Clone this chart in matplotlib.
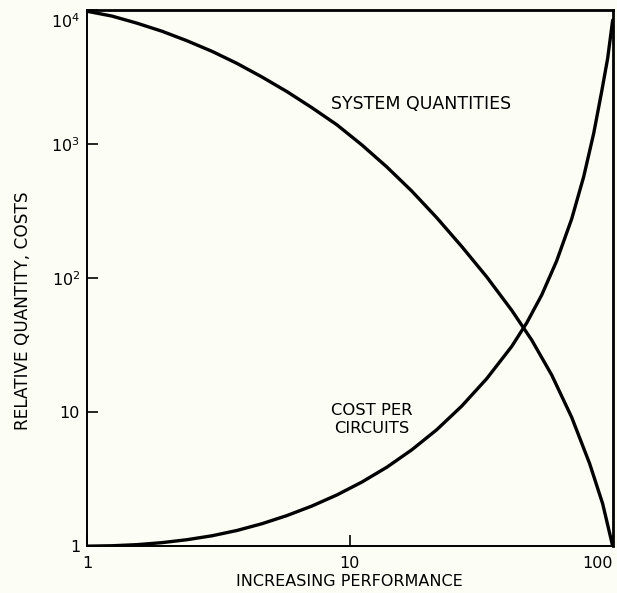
import matplotlib.pyplot as plt
import matplotlib.transforms as mtransforms
import numpy as np

# curve readings: relative performance vs relative quantity/cost
perf_sys = [1, 1.245, 1.549, 1.928, 2.40, 2.988, 3.719, 4.628, 5.761, 7.17, 8.925, 11.11,
            13.83, 17.21, 21.42, 26.66, 33.19, 41.3, 49.21, 58.64, 69.86, 81.76, 91.62, 100]
system_quantities = [9800, 9020, 7985, 6955, 5905, 4925, 4002, 3170, 2466, 1870, 1394, 986,
                     675, 446, 282, 172, 102, 57.5, 34.5, 18.9, 9.13, 4.12, 2.07, 1]

perf_cost = [1, 1.245, 1.549, 1.928, 2.40, 2.988, 3.719, 4.628, 5.761, 7.17, 8.925, 11.11,
             13.83, 17.21, 21.42, 26.66, 33.19, 41.3, 47.1, 53.7, 61.2, 69.86, 77.6, 84.7,
             90.8, 95.7, 100]
cost_per_circuit = [1, 1.007, 1.026, 1.062, 1.117, 1.195, 1.309, 1.47, 1.691, 1.992, 2.41, 3.007,
                    3.882, 5.236, 7.397, 11.1, 17.8, 30.94, 46.35, 74.8, 134.2, 277.3, 572.7, 1205,
                    2466, 4364, 8414]

y_ticks = [1, 10, 100, 1000, 10000]
y_tick_labels = ['1', '10', '10$^2$', '10$^3$', '10$^4$']
x_ticks = [1, 10, 100]
x_tick_labels = ['1', '10', '100']

bg = '#fcfdf5'
plt.rcParams['mathtext.default'] = 'regular'
plt.rcParams['font.family'] = 'DejaVu Sans'

fig = plt.figure(figsize=(6.17, 5.93), dpi=100, facecolor=bg)
ax = fig.add_axes([0.141, 0.079, 0.852, 0.904], facecolor=bg)

ax.plot(perf_sys, system_quantities, color='black', lw=2.4, solid_capstyle='round', solid_joinstyle='round')
ax.plot(perf_cost, cost_per_circuit, color='black', lw=2.4, solid_capstyle='round', solid_joinstyle='round')

ax.set_xscale('log')
ax.set_yscale('log')
ax.set_xlim(1, 100)
ax.set_ylim(1, 10000)
ax.minorticks_off()

ax.set_yticks(y_ticks)
ax.set_yticklabels(y_tick_labels)
ax.set_xticks(x_ticks)
ax.set_xticklabels(x_tick_labels)
ax.tick_params(direction='in', length=8, width=1.2, labelsize=11.5, pad=5)
ax.tick_params(axis='x', pad=7)
# last x label sits at the edge of the figure
ax.get_xticklabels()[-1].set_horizontalalignment('right')
# top y label drops a little below the corner
top_lbl = ax.get_yticklabels()[-1]
top_lbl.set_transform(top_lbl.get_transform() + mtransforms.ScaledTranslation(0, -0.1, fig.dpi_scale_trans))

for side in ['left', 'bottom']:
    ax.spines[side].set_linewidth(1.4)
for side in ['top', 'right']:
    ax.spines[side].set_linewidth(2.0)

ax.set_xlabel('INCREASING PERFORMANCE', fontsize=11.5, labelpad=2)
ax.set_ylabel('RELATIVE QUANTITY, COSTS', fontsize=12.2)
ax.yaxis.set_label_coords(-0.105, 0.44)

# curve labels
ax.text(18.6, 2005, 'SYSTEM QUANTITIES', fontsize=12.5, ha='center', va='center')
ax.text(12.1, 8.8, 'COST PER\nCIRCUITS', fontsize=11.8, ha='center', va='center', linespacing=1.3)

plt.savefig('out.png', dpi=100, facecolor=bg)
plt.close()
